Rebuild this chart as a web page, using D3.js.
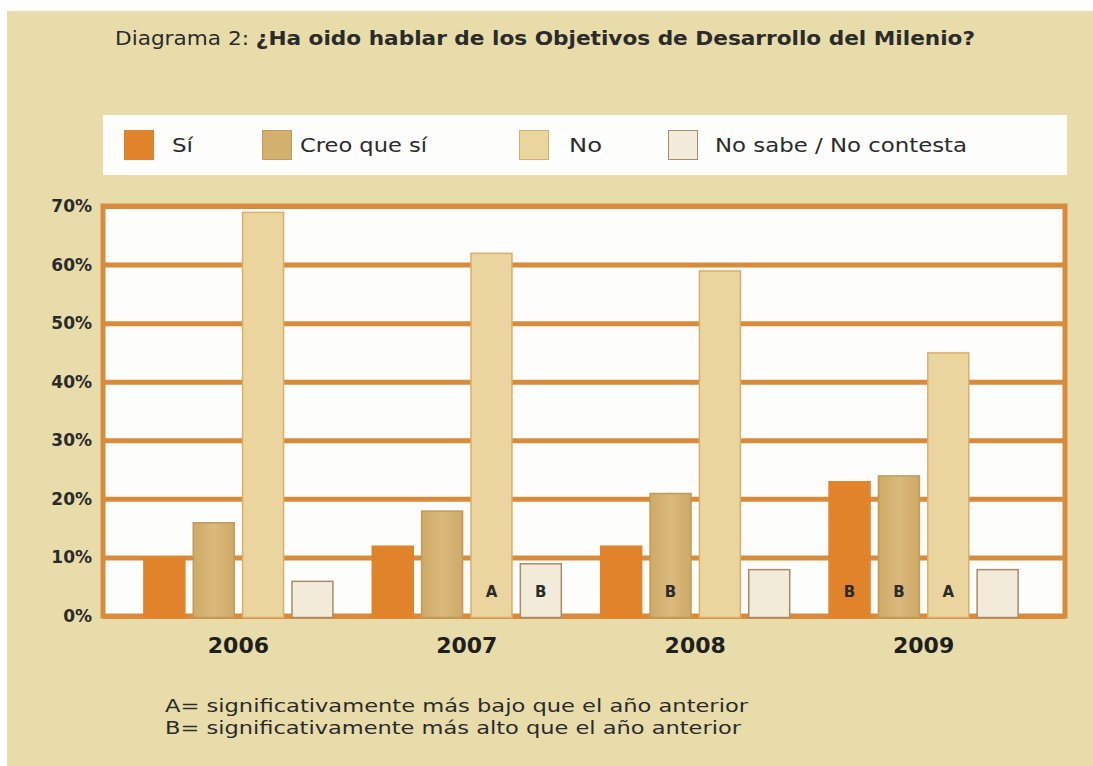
<!DOCTYPE html>
<html>
<head>
<meta charset="utf-8">
<script src="https://cdn.jsdelivr.net/npm/d3@7"></script>
<style>
  body { margin: 0; background: #fff; }
  svg { display: block; font-family: "DejaVu Sans", Verdana, sans-serif; }
</style>
</head>
<body>
<div id="chart"></div>
<script>
var years = ['2006', '2007', '2008', '2009'];
var seriesNames = ['Sí', 'Creo que sí', 'No', 'No sabe / No contesta'];
var siValues = [10, 12, 12, 23];
var creoValues = [16, 18, 21, 24];
var noValues = [69, 62, 59, 45];
var nsncValues = [6, 9, 8, 8];
// A = lower than previous year, B = higher
var siMarks = ['', '', '', 'B'];
var creoMarks = ['', '', 'B', 'B'];
var noMarks = ['', 'A', '', 'A'];
var nsncMarks = ['', 'B', '', ''];
var yTicks = [0, 10, 20, 30, 40, 50, 60, 70];
var notes = ['A= significativamente más bajo que el año anterior',
             'B= significativamente más alto que el año anterior'];

var fills = ['#e1832a', '#d3b06d', '#e9d59d', '#f3ebd9'];
var strokes = ['#e1832a', '#c39a58', '#dcae6c', '#a98b68'];
var gridColor = '#d98b3c';

var W = 1093, H = 766;
var plotL = 103, plotR = 1065, plotT = 206, plotB = 616;

var svg = d3.select('#chart').append('svg')
    .attr('width', W)
    .attr('height', H);

// background panel
svg.append('rect')
    .attr('x', 7).attr('y', 11)
    .attr('width', W - 7).attr('height', H - 11)
    .attr('fill', '#e8dcaa');

// title
var title = svg.append('text')
    .attr('x', 115).attr('y', 45)
    .attr('textLength', 860)
    .attr('lengthAdjust', 'spacingAndGlyphs')
    .style('font-size', '20px')
    .attr('fill', '#2b2b2b');
title.append('tspan').text('Diagrama 2: ');
title.append('tspan').attr('font-weight', 'bold')
    .text('¿Ha oido hablar de los Objetivos de Desarrollo del Milenio?');

// legend
// ------------------------------
svg.append('rect')
    .attr('x', 103).attr('y', 115)
    .attr('width', 964).attr('height', 60)
    .attr('fill', '#fdfdfb');

var legendX = [124, 262, 519, 668];
var legendTextX = [48, 38, 50, 47];
var legendLen = [21, 127, 33, 252];
var legend = svg.selectAll('.legend')
    .data(seriesNames)
    .enter().append('g')
    .attr('class', 'legend')
    .attr('transform', function(d, i) { return 'translate(' + legendX[i] + ',130)'; });

legend.append('rect')
    .attr('width', 29).attr('height', 29)
    .attr('x', 0.5).attr('y', 0.5)
    .attr('fill', function(d, i) { return fills[i]; })
    .attr('stroke', function(d, i) { return strokes[i]; });

legend.append('text')
    .attr('x', function(d, i) { return legendTextX[i]; })
    .attr('y', 22)
    .attr('textLength', function(d, i) { return legendLen[i]; })
    .attr('lengthAdjust', 'spacingAndGlyphs')
    .style('font-size', '20px')
    .attr('fill', '#2b2b2b')
    .text(function(d) { return d; });

// scales
// ------------------------------
var x0 = d3.scaleBand()
    .domain(years)
    .range([plotL - 3, plotR - 3])
    .paddingInner(0.168)
    .paddingOuter(0.19);

var x1 = d3.scaleBand()
    .domain(d3.range(seriesNames.length))
    .range([0, x0.bandwidth()])
    .paddingInner(0.15);

var y = d3.scaleLinear()
    .domain([0, 70])
    .range([plotB, plotT]);

// plot area + grid
svg.append('rect')
    .attr('x', plotL).attr('y', plotT)
    .attr('width', plotR - plotL).attr('height', plotB - plotT)
    .attr('fill', '#fdfdfc');

var yAxis = svg.append('g')
    .attr('transform', 'translate(' + plotL + ',0)')
    .call(d3.axisLeft(y)
        .tickValues(yTicks)
        .tickSize(-(plotR - plotL))
        .tickPadding(11)
        .tickFormat(function(d) { return d + '%'; }));

yAxis.select('.domain').remove();
yAxis.selectAll('line')
    .attr('stroke', gridColor)
    .attr('stroke-width', 5);
yAxis.selectAll('text')
    .attr('fill', '#2b2b2b')
    .attr('font-weight', 'bold')
    .style('font-family', '"DejaVu Sans", Verdana, sans-serif')
    .style('font-size', '17px');

// frame
svg.append('rect')
    .attr('x', plotL).attr('y', plotT)
    .attr('width', plotR - plotL).attr('height', plotB - plotT)
    .attr('fill', 'none')
    .attr('stroke', gridColor)
    .attr('stroke-width', 5);

// bars
// ------------------------------
var rows = years.map(function(yr, i) {
  return {
    year: yr,
    vals: [siValues[i], creoValues[i], noValues[i], nsncValues[i]],
    marks: [siMarks[i], creoMarks[i], noMarks[i], nsncMarks[i]]
  };
});

var defs = svg.append('defs');
var grad = defs.append('linearGradient').attr('id', 'creoGrad');
grad.append('stop').attr('offset', '0%').attr('stop-color', '#ceaa66');
grad.append('stop').attr('offset', '50%').attr('stop-color', '#dab97c');
grad.append('stop').attr('offset', '100%').attr('stop-color', '#ceaa66');

var group = svg.selectAll('.group')
    .data(rows)
    .enter().append('g')
    .attr('class', 'group')
    .attr('transform', function(d) { return 'translate(' + x0(d.year) + ',0)'; });

var cells = group.selectAll('.bar')
    .data(function(d) {
      return d.vals.map(function(v, k) { return {k: k, v: v, m: d.marks[k]}; });
    })
    .enter().append('g')
    .attr('class', 'bar');

cells.append('rect')
    .attr('x', function(d) { return x1(d.k) + 0.5; })
    .attr('y', function(d) { return y(d.v) + 0.5; })
    .attr('width', x1.bandwidth() - 1)
    .attr('height', function(d) { return plotB - y(d.v) + 1; })
    .attr('fill', function(d) { return d.k == 1 ? 'url(#creoGrad)' : fills[d.k]; })
    .attr('stroke', function(d) { return strokes[d.k]; })
    .attr('stroke-width', 1.5);

cells.filter(function(d) { return d.m != ''; })
    .append('text')
    .attr('x', function(d) { return x1(d.k) + x1.bandwidth() / 2; })
    .attr('y', 597)
    .attr('text-anchor', 'middle')
    .attr('font-weight', 'bold')
    .style('font-size', '15px')
    .attr('fill', '#2b2b2b')
    .text(function(d) { return d.m; });

// year labels
svg.selectAll('.year')
    .data(years)
    .enter().append('text')
    .attr('class', 'year')
    .attr('x', function(d) { return x0(d) + x0.bandwidth() / 2; })
    .attr('y', 653)
    .attr('text-anchor', 'middle')
    .attr('font-weight', 'bold')
    .style('font-size', '22px')
    .attr('fill', '#1f1f1f')
    .text(function(d) { return d; });

// footnotes
var noteLen = [583, 576];
svg.selectAll('.note')
    .data(notes)
    .enter().append('text')
    .attr('class', 'note')
    .attr('x', 165)
    .attr('y', function(d, i) { return 712 + i * 22; })
    .attr('textLength', function(d, i) { return noteLen[i]; })
    .attr('lengthAdjust', 'spacingAndGlyphs')
    .style('font-size', '18px')
    .attr('fill', '#2b2b2b')
    .text(function(d) { return d; });
</script>
</body>
</html>
